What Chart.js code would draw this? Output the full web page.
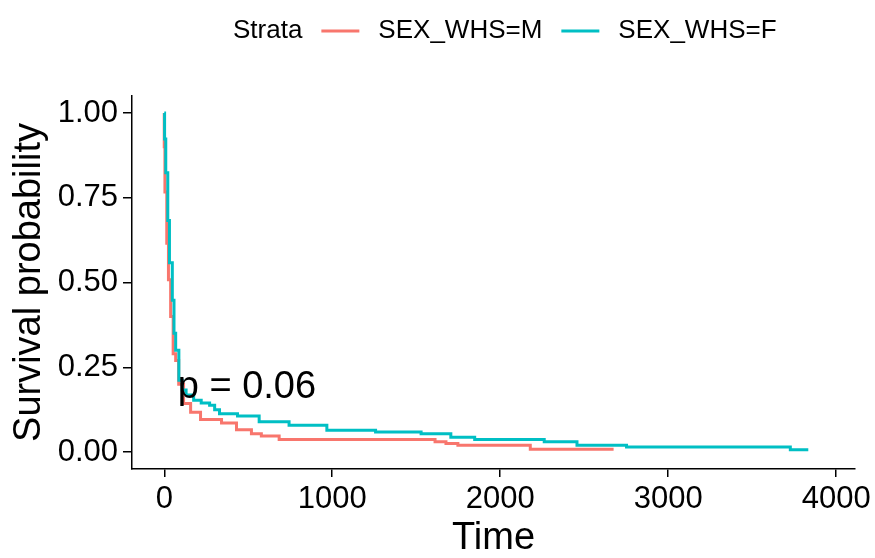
<!DOCTYPE html>
<html>
<head>
<meta charset="UTF-8">
<title>Survival</title>
<script src="https://cdn.jsdelivr.net/npm/chart.js@4.4.1/dist/chart.umd.min.js"></script>
<style>
  html, body { margin: 0; padding: 0; background: #fff; }
</style>
</head>
<body>
<canvas id="km" width="875" height="558"></canvas>
<script>
// Kaplan-Meier estimates per stratum (time in days, survival probability)
var timeM = [0, 0, 4, 15, 25, 38, 53, 68, 86, 115, 157, 216, 341, 430, 519, 578, 684, 1612, 1677, 1748, 2179, 2675];
var survM = [1, 0.90, 0.767, 0.616, 0.508, 0.40, 0.29, 0.27, 0.20, 0.143, 0.117, 0.096, 0.086, 0.066, 0.054, 0.047, 0.037, 0.030, 0.025, 0.020, 0.008, 0.008];

var timeF = [0, 2, 9, 21, 31, 48, 58, 68, 87, 107, 130, 175, 220, 270, 300, 329, 436, 565, 743, 968, 1258, 1529, 1706, 1848, 2262, 2457, 2752, 3727, 3834];
var survF = [1, 0.923, 0.824, 0.683, 0.558, 0.448, 0.350, 0.300, 0.212, 0.183, 0.168, 0.153, 0.145, 0.138, 0.125, 0.113, 0.106, 0.089, 0.079, 0.064, 0.059, 0.054, 0.044, 0.037, 0.030, 0.020, 0.015, 0.007, 0.007];

var strata = ['SEX_WHS=M', 'SEX_WHS=F'];
var colors = ['#F8766D', '#00BFC4'];
var xTicks = [0, 1000, 2000, 3000, 4000];
var yTicks = [0, 0.25, 0.5, 0.75, 1];
var pLabel = 'p = 0.06';

var FONT = '"Liberation Sans", Arial, sans-serif';

function pts(t, s) {
  return t.map(function(v, i) { return { x: v, y: s[i] }; });
}

// legend row on top: "Strata  —— M  —— F"
var topLegend = {
  id: 'topLegend',
  afterDraw: function(chart) {
    var ctx = chart.ctx;
    ctx.save();
    ctx.font = '26px ' + FONT;
    ctx.fillStyle = '#000';
    ctx.textBaseline = 'middle';
    var y = 31, x = 233, gap = 19, seg = 38;
    ctx.fillText('Strata', x, y);
    x += ctx.measureText('Strata').width + gap;
    for (var i = 0; i < strata.length; i++) {
      ctx.strokeStyle = colors[i];
      ctx.lineWidth = 3;
      ctx.beginPath();
      ctx.moveTo(x, y);
      ctx.lineTo(x + seg, y);
      ctx.stroke();
      x += seg + gap;
      ctx.fillText(strata[i], x, y);
      x += ctx.measureText(strata[i]).width + gap;
    }
    ctx.restore();
  }
};

// log-rank p-value annotation
var pText = {
  id: 'pText',
  afterDatasetsDraw: function(chart) {
    var ctx = chart.ctx;
    var xs = chart.scales.x, ys = chart.scales.y;
    ctx.save();
    ctx.font = '38px ' + FONT;
    ctx.fillStyle = '#000';
    ctx.textBaseline = 'middle';
    ctx.fillText(pLabel, xs.getPixelForValue(80), ys.getPixelForValue(0.19));
    ctx.restore();
  }
};

new Chart(document.getElementById('km'), {
  type: 'line',
  data: {
    datasets: [
      { label: strata[0], data: pts(timeM, survM), borderColor: colors[0], order: 1 },
      { label: strata[1], data: pts(timeF, survF), borderColor: colors[1], order: 0 }
    ]
  },
  options: {
    responsive: false,
    animation: false,
    events: [],
    layout: { padding: { top: 96, right: 13, left: 0, bottom: 0 } },
    elements: {
      line: { stepped: true, borderWidth: 3, fill: false },
      point: { radius: 0 }
    },
    plugins: { legend: { display: false }, tooltip: { enabled: false } },
    scales: {
      x: {
        type: 'linear',
        min: -192,
        max: 4112,
        afterBuildTicks: function(s) { s.ticks = xTicks.map(function(v) { return { value: v }; }); },
        afterFit: function(s) { s.height = 89; },
        grid: { drawOnChartArea: false, drawTicks: true, tickLength: 8, color: '#000', lineWidth: 1.5 },
        border: { display: true, color: '#000', width: 1.5 },
        ticks: { color: '#000', font: { family: FONT, size: 31 }, padding: 4, maxRotation: 0, autoSkip: false,
          callback: function(v) { return String(v); } },
        title: { display: true, text: 'Time', color: '#000', font: { family: FONT, size: 38, lineHeight: 1 }, padding: 0 }
      },
      y: {
        type: 'linear',
        min: -0.05,
        max: 1.05,
        afterBuildTicks: function(s) { s.ticks = yTicks.map(function(v) { return { value: v }; }); },
        afterFit: function(s) { s.width = 132; },
        grid: { drawOnChartArea: false, drawTicks: true, tickLength: 9, color: '#000', lineWidth: 1.5 },
        border: { display: true, color: '#000', width: 1.5 },
        ticks: { color: '#000', font: { family: FONT, size: 31 }, padding: 5, autoSkip: false,
          callback: function(v) { return v.toFixed(2); } },
        title: { display: true, text: 'Survival probability', color: '#000', font: { family: FONT, size: 38, lineHeight: 1 }, padding: { top: 11 } }
      }
    }
  },
  plugins: [topLegend, pText]
});
</script>
</body>
</html>
